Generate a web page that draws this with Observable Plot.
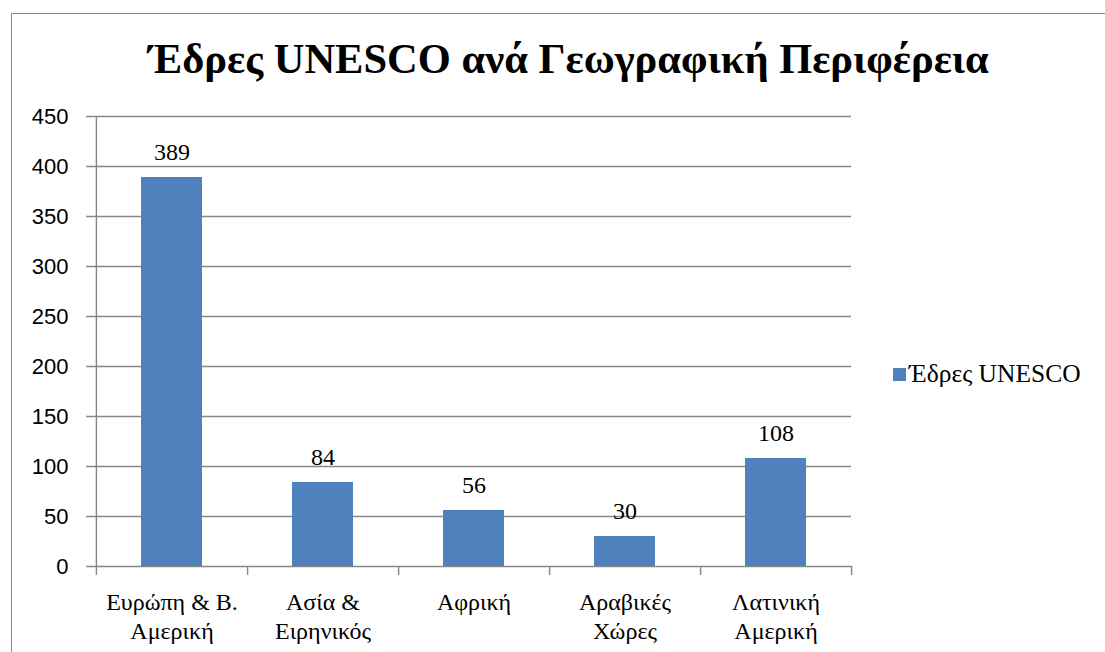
<!DOCTYPE html>
<html>
<head>
<meta charset="utf-8">
<script src="https://cdn.jsdelivr.net/npm/d3@7"></script>
<script src="https://cdn.jsdelivr.net/npm/@observablehq/plot@0.6"></script>
<style>
  html, body { margin: 0; padding: 0; background: #fff; }
  #wrap { position: relative; width: 1105px; height: 652px; overflow: hidden; background: #fff; }
  #border { position: absolute; left: 11px; top: 13px; width: 1200px; height: 800px;
            border-left: 1.5px solid #8a8a8a; border-top: 1.5px solid #8a8a8a; }
  #title { position: absolute; left: 0; top: 35px; width: 1137px; text-align: center;
           font-family: "Liberation Serif", "Times New Roman", serif; font-weight: bold;
           font-size: 42.5px; line-height: 48px; color: #000; white-space: nowrap; }
  #chart { position: absolute; left: 0; top: 0; }
  #legend { position: absolute; left: 893px; top: 359px; font-family: "Liberation Serif", serif;
            font-size: 25.5px; color: #000; white-space: nowrap; display: flex; align-items: center; }
  #legend .sw { width: 13px; height: 13px; background: #4f81bd; margin-right: 3px; }
</style>
</head>
<body>
<div id="wrap">
  <div id="border"></div>
  <div id="chart"></div>
  <div id="title"></div>
  <div id="legend"><span class="sw"></span><span id="legtext"></span></div>
</div>
<script>
const titleText = "Έδρες UNESCO ανά Γεωγραφική Περιφέρεια";
const seriesName = "Έδρες UNESCO";
const regions = ["Ευρώπη & Β.\nΑμερική", "Ασία &\nΕιρηνικός", "Αφρική", "Αραβικές\nΧώρες", "Λατινική\nΑμερική"];
const seats = [389, 84, 56, 30, 108];
const yTicks = [0, 50, 100, 150, 200, 250, 300, 350, 400, 450];

const data = regions.map((r, i) => ({region: r, value: seats[i]}));

const W = 1105, H = 652, mL = 95, mR = 254, mT = 116, mB = 86;
const bw = (W - mL - mR) / regions.length;
const frameH = H - mT - mB;
const gridColor = "#878787";
const serifFont = "serif";
const sansFont = "sans-serif";

document.getElementById("title").textContent = titleText;
document.getElementById("legtext").textContent = seriesName;

const chart = Plot.plot({
  width: W, height: H,
  marginLeft: mL, marginRight: mR, marginTop: mT, marginBottom: mB,
  style: {background: "transparent", overflow: "visible", fontFamily: "serif"},
  x: {domain: regions, padding: 0, label: null},
  y: {domain: [0, 450], label: null},
  marks: [
    Plot.gridY(yTicks, {stroke: gridColor, strokeOpacity: 1, strokeWidth: 1.4, insetLeft: -9}),
    Plot.barY(data, {x: "region", y: "value", fill: "#4f81bd", insetLeft: 45, insetRight: 45}),
    Plot.ruleX([regions[0]], {dx: -bw / 2, stroke: gridColor, strokeWidth: 1.4, insetBottom: -9}),
    Plot.ruleX(regions, {dx: bw / 2, stroke: gridColor, strokeWidth: 1.4, insetTop: frameH, insetBottom: -9}),
    Plot.axisY(yTicks, {tickSize: 0, tickPadding: 27, fontSize: 22, fill: "#000", fontFamily: sansFont}),
    Plot.axisX({tickSize: 0, tickPadding: 23, fontSize: 24, fill: "#000", lineHeight: 1.2, fontFamily: serifFont}),
    Plot.text(data, {x: "region", y: "value", text: d => String(d.value), dy: -18, lineAnchor: "bottom",
                     fontSize: 24, fill: "#000", fontFamily: serifFont})
  ]
});
d3.select(chart).attr("font-family", "serif");
document.getElementById("chart").appendChild(chart);
</script>
</body>
</html>
